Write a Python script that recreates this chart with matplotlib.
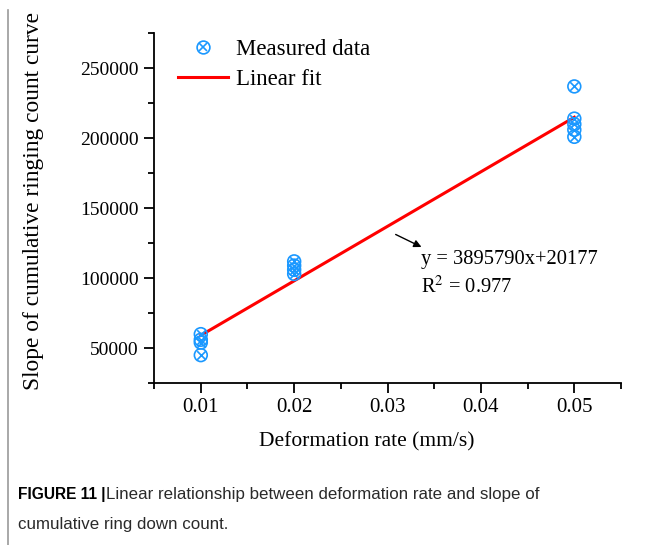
import numpy as np
import matplotlib
matplotlib.use("Agg")
from matplotlib import pyplot as plt
from matplotlib.lines import Line2D
from matplotlib.ticker import MultipleLocator

# measured slopes at each deformation rate
rate_001 = [60000, 56000, 54000, 45000]
rate_002 = [112000, 109000, 106000, 103000]
rate_005 = [237000, 214000, 210000, 206000, 201000]
rates = [0.01] * len(rate_001) + [0.02] * len(rate_002) + [0.05] * len(rate_005)
slopes = rate_001 + rate_002 + rate_005

# fitted line
fit_k = 3895790
fit_b = 20177
fit_r2 = 0.977
fit_x = [0.01, 0.05]

plt.rcParams['font.family'] = ['Liberation Serif', 'DejaVu Serif']
plt.rcParams['mathtext.fontset'] = 'stix'

blue = '#1a98ff'
red = '#ff0000'

fig = plt.figure(figsize=(6.53, 5.45), dpi=100)
ax = fig.add_axes([0.236, 0.297, 0.715, 0.642])

ax.scatter(rates, slopes, s=85, facecolors='none', edgecolors=blue, linewidths=1.2, marker='o', zorder=3)
ax.scatter(rates, slopes, s=38, color=blue, linewidths=1.2, marker='x', zorder=3)
fx = np.array(fit_x)
ax.plot(fx, fit_k * fx + fit_b, color=red, lw=2.2, zorder=2)

ax.set_xlim(0.005, 0.055)
ax.set_ylim(25000, 275000)
ax.xaxis.set_minor_locator(MultipleLocator(0.005))
ax.yaxis.set_minor_locator(MultipleLocator(25000))
ax.set_xticks([0.01, 0.02, 0.03, 0.04, 0.05])
ax.set_xticklabels(['0.01', '0.02', '0.03', '0.04', '0.05'])
ax.set_yticks([50000, 100000, 150000, 200000, 250000])
ax.set_yticklabels(['50000', '100000', '150000', '200000', '250000'])

for s in ['top', 'right']:
    ax.spines[s].set_visible(False)
for s in ['left', 'bottom']:
    ax.spines[s].set_linewidth(1.3)
ax.tick_params(which='major', length=7, width=1.3, pad=4)
ax.tick_params(which='minor', length=4, width=1.3)
ax.tick_params(axis='x', labelsize=15)
ax.tick_params(axis='y', labelsize=14)

ax.set_xlabel('Deformation rate (mm/s)', fontsize=15.5)
ax.xaxis.set_label_coords(0.455, -0.14)
ax.set_ylabel('Slope of cumulative ringing count curve', fontsize=16.8)
ax.yaxis.set_label_coords(-0.235, 0.52)

ax.annotate('', xy=(0.0339, 121400), xytext=(0.0306, 132100),
            arrowprops=dict(arrowstyle='-|>', color='black', lw=1.0, mutation_scale=11))
ax.text(0.0336, 113600, 'y = %dx+%d' % (fit_k, fit_b), fontsize=14.8, va='center', ha='left')
ax.text(0.0336, 93600, r'R$^2$ = %.3f' % fit_r2, fontsize=14.8, va='center', ha='left')

h_meas = (Line2D([], [], ls='none', marker='o', ms=9.2, mfc='none', mec=blue, mew=1.2),
          Line2D([], [], ls='none', marker='x', ms=6, color=blue, mew=1.2))
h_fit = Line2D([], [], color=red, lw=2.2)
ax.legend([h_meas, h_fit], ['Measured data', 'Linear fit'], loc='upper left',
          bbox_to_anchor=(0.2726, 0.929), bbox_transform=fig.transFigure,
          frameon=False, fontsize=16.5, handlelength=2.2, handletextpad=0.35,
          labelspacing=0.4, borderaxespad=0, borderpad=0)

# left border of the panel
fig.add_artist(Line2D([0.012, 0.012], [0.0, 0.982], color='#9a9a9a', lw=1.2,
                      transform=fig.transFigure))

fig.text(0.028, 0.084, 'FIGURE 11 |', fontsize=11.2, fontweight='bold',
         family='Liberation Sans', va='baseline')
fig.text(0.163, 0.084, 'Linear relationship between deformation rate and slope of',
         fontsize=12.2, family='Liberation Sans', color='#2a2a2a', va='baseline')
fig.text(0.028, 0.030, 'cumulative ring down count.', fontsize=12.2,
         family='Liberation Sans', color='#2a2a2a', va='baseline')

fig.savefig('out.png', dpi=100)
